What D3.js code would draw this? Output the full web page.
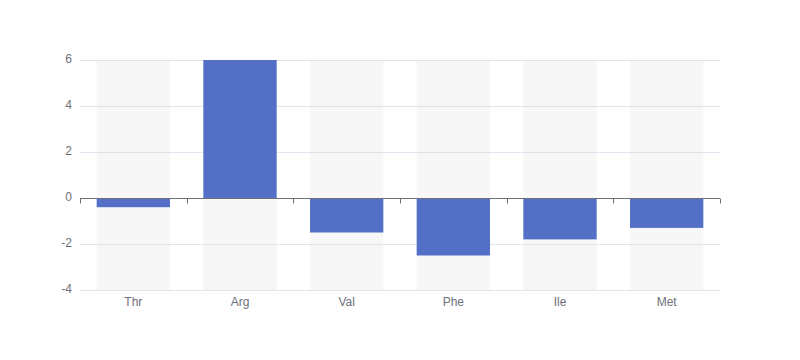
<!DOCTYPE html>
<html><head><meta charset="utf-8">
<script src="https://cdn.jsdelivr.net/npm/d3@7/dist/d3.min.js"></script>
<style>body{margin:0;background:#fff}svg{display:block}</style>
</head><body>
<svg id="c" width="800" height="360"></svg>
<script>
const categories = ["Thr", "Arg", "Val", "Phe", "Ile", "Met"];
const values = [-0.4, 6, -1.5, -2.5, -1.8, -1.3];
const yTicks = [-4, -2, 0, 2, 4, 6];

const svg = d3.select("#c");
const L = 80, R = 720, T = 60, B = 290;
const x = d3.scaleBand().domain(categories).range([L, R]);
const y = d3.scaleLinear().domain([-4, 6]).range([B, T]);
const bw = x.bandwidth() * 0.6875;
const font = "sans-serif";

// split lines
svg.append("g").selectAll("line").data(yTicks).join("line")
  .attr("x1", L).attr("x2", R)
  .attr("y1", d => Math.round(y(d)) + 0.5).attr("y2", d => Math.round(y(d)) + 0.5)
  .attr("stroke", "#E0E6F1").attr("stroke-width", 1);

// backgrounds
svg.append("g").selectAll("rect").data(categories).join("rect")
  .attr("x", d => x(d) + (x.bandwidth() - bw) / 2).attr("width", bw)
  .attr("y", T).attr("height", B - T)
  .attr("fill", "rgba(180,180,180,0.1)");

// bars
svg.append("g").selectAll("rect").data(values).join("rect")
  .attr("x", (d, i) => x(categories[i]) + (x.bandwidth() - bw) / 2).attr("width", bw)
  .attr("y", d => y(Math.max(0, d))).attr("height", d => Math.abs(y(d) - y(0)))
  .attr("fill", "#5470C6");

// x axis
const xa = d3.axisBottom(x).tickSize(0).tickPadding(0);
const gx = svg.append("g").attr("transform", `translate(0,${Math.round(y(0)) + 0.5})`);
gx.append("line").attr("x1", L).attr("x2", R).attr("stroke", "#6E7079");
const boundaries = d3.range(categories.length + 1).map(i => L + i * x.step());
gx.selectAll("line.tk").data(boundaries).join("line").attr("class", "tk")
  .attr("x1", d => Math.round(d) + 0.5).attr("x2", d => Math.round(d) + 0.5)
  .attr("y1", 0).attr("y2", 5).attr("stroke", "#6E7079");

svg.append("g").selectAll("text").data(categories).join("text")
  .attr("x", d => x(d) + x.bandwidth() / 2).attr("y", B + 13)
  .attr("text-anchor", "middle").attr("dominant-baseline", "middle")
  .attr("font-family", font).attr("font-size", 12).attr("fill", "#6E7079")
  .text(d => d);

// y labels
svg.append("g").selectAll("text").data(yTicks).join("text")
  .attr("x", L - 8).attr("y", d => y(d))
  .attr("text-anchor", "end").attr("dominant-baseline", "middle")
  .attr("font-family", font).attr("font-size", 12).attr("fill", "#6E7079")
  .text(d => d);
</script>
</body></html>
